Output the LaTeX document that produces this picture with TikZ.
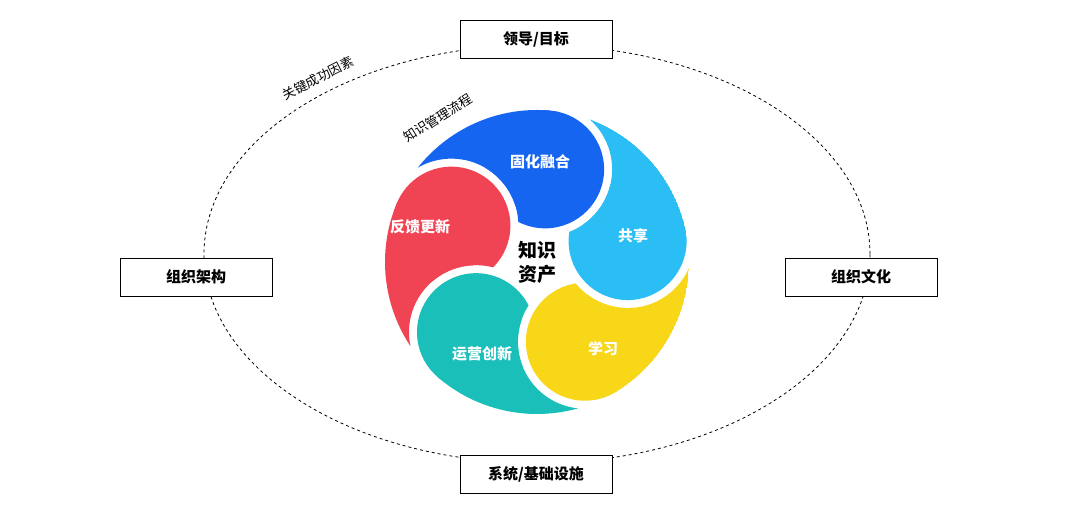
\documentclass[tikz,border=0pt]{standalone}
\usepackage{fontspec}
\setmainfont{Noto Sans CJK SC}
\usetikzlibrary{calc}
\definecolor{pblue}{HTML}{1565F0}
\definecolor{pcyan}{HTML}{2BBEF5}
\definecolor{pyellow}{HTML}{F7D718}
\definecolor{pteal}{HTML}{1ABFBA}
\definecolor{pred}{HTML}{F04455}
\tikzset{
 framebox/.style={draw=black,line width=0.9pt,fill=white,minimum width=152pt,minimum height=38pt,font=\bfseries\fontsize{15}{18}\selectfont},
 petlabel/.style={text=white,font=\bfseries\fontsize{15}{18}\selectfont},
 sidelabel/.style={font=\fontsize{13}{15}\selectfont}
}
\begin{document}
\begin{tikzpicture}[x=1pt,y=1pt]
\useasboundingbox (0,0) rectangle (1080,513);
\fill[white] (0,0) rectangle (1080,513);
\coordinate (C) at (537,251);
\draw[dashed,line width=0.8pt] (537,259) ellipse [x radius=333, y radius=209];
\def\R{152}\def\d{93}\def\r{59}\def\g{67}
\foreach \a/\col in {85/pblue, 13/pcyan, -59/pyellow, -131/pteal, 157/pred}{
 \begin{scope}[even odd rule]
  \clip (C) circle (\R);
  \clip (-10,-10) rectangle (1100,600) ($(C)+(\a+72:\d)$) circle (\g);
  \fill[\col] ($(C)+(\a:\d)$) circle (\r);
  \fill[\col] ($(C)+(\a:60)$) -- ($(C)+(\a:\R)$) arc[start angle=\a, end angle=\a+72, radius=\R] -- ($(C)+(\a+72:60)$) arc[start angle=\a+72, end angle=\a, radius=60] -- cycle;
 \end{scope}
}
\node[petlabel] (p1) at (540,351) {固化融合};
\node[petlabel] (p2) at (633,277) {共享};
\node[petlabel] (p3) at (603,164) {学习};
\node[petlabel] (p4) at (482,159) {运营创新};
\node[petlabel] (p5) at (420,286) {反馈更新};
\node[align=center,font=\bfseries\fontsize{19}{24}\selectfont] (ka) at (537,251) {知识\\资产};
\node[framebox] (top) at (536,474) {领导/目标};
\node[framebox] (bot) at (536,39) {系统/基础设施};
\node[framebox] (left) at (196,236) {组织架构};
\node[framebox] (right) at (861,236) {组织文化};
\node[sidelabel,rotate=27] (ksf) at (318,435) {关键成功因素};
\node[sidelabel,rotate=32] (kmp) at (438,395) {知识管理流程};
\end{tikzpicture}
\end{document}
